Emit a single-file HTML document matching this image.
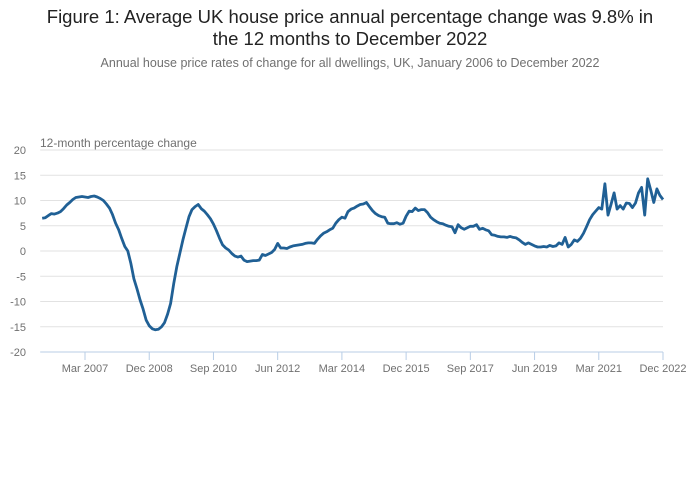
<!DOCTYPE html>
<html><head><meta charset="utf-8"><style>
body{margin:0;background:#fff;font-family:"Liberation Sans",sans-serif}
#wrap{position:relative;width:700px;height:502px;overflow:hidden}
h1{position:absolute;top:6px;left:0;width:700px;margin:0;text-align:center;font-weight:normal;font-size:18.5px;line-height:22px;color:#222}
p.sub{position:absolute;top:56px;left:0;width:700px;margin:0;text-align:center;font-size:12.5px;color:#707070}
svg{position:absolute;left:0;top:0}
</style></head><body>
<div id="wrap">
<h1>Figure 1: Average UK house price annual percentage change was 9.8% in<br>the 12 months to December 2022</h1>
<p class="sub">Annual house price rates of change for all dwellings, UK, January 2006 to December 2022</p>
<svg id="chart" width="700" height="502"></svg>
</div>
<script>
const yTicks=[20,15,10,5,0,-5,-10,-15,-20];
const xTickLabels=["Mar 2007","Dec 2008","Sep 2010","Jun 2012","Mar 2014","Dec 2015","Sep 2017","Jun 2019","Mar 2021","Dec 2022"];
const xTickIndex=[14,35,56,77,98,119,140,161,182,203];
const values=[
6.5,6.6,7.0,7.4,7.3,7.5,7.8,8.4,9.1,9.6,10.2,10.6,
10.7,10.8,10.7,10.6,10.8,10.9,10.7,10.4,10.0,9.3,8.5,7.2,
5.5,4.2,2.5,0.9,0.0,-2.5,-5.5,-7.5,-9.7,-11.5,-13.7,-14.8,
-15.4,-15.6,-15.5,-15.0,-14.2,-12.5,-10.4,-6.5,-3.1,-0.5,2.2,4.5,
6.8,8.2,8.8,9.2,8.4,7.9,7.2,6.4,5.3,4.0,2.5,1.2,
0.6,0.2,-0.5,-1.0,-1.2,-1.0,-1.8,-2.1,-2.0,-1.9,-1.9,-1.8,
-0.7,-0.9,-0.6,-0.3,0.3,1.5,0.6,0.6,0.5,0.8,1.0,1.1,
1.2,1.3,1.5,1.6,1.6,1.5,2.3,3.0,3.5,3.8,4.2,4.5,
5.5,6.2,6.7,6.5,7.8,8.3,8.5,8.9,9.2,9.3,9.6,8.8,
8.0,7.4,7.0,6.8,6.7,5.5,5.4,5.4,5.6,5.3,5.5,6.9,
7.9,7.8,8.5,8.0,8.2,8.2,7.6,6.7,6.2,5.8,5.5,5.4,
5.1,4.9,4.8,3.6,5.2,4.6,4.3,4.6,4.9,4.9,5.2,4.3,
4.5,4.2,4.0,3.2,3.1,2.9,2.8,2.8,2.7,2.9,2.7,2.6,
2.2,1.7,1.3,1.6,1.3,1.0,0.8,0.8,0.9,0.8,1.1,0.9,
1.0,1.6,1.3,2.7,0.8,1.3,2.2,1.9,2.5,3.5,4.8,6.2,
7.2,7.9,8.6,8.3,13.3,7.1,9.2,11.5,8.3,9.0,8.3,9.5,
9.4,8.6,9.5,11.5,12.6,7.1,14.3,12.0,9.6,12.3,11.0,10.2];
const NS="http://www.w3.org/2000/svg";
const svg=document.getElementById('chart');
const X0=42.2,X1=663,Y0=352,Y1=150;
const x=i=>X0+(X1-X0)*i/203;
const y=v=>Y0-(v+20)/40*(Y0-Y1);
function mk(t,a){const e=document.createElementNS(NS,t);for(const k in a)e.setAttribute(k,a[k]);svg.appendChild(e);return e;}
const at=mk('text',{x:40,y:147,'font-size':12,fill:'#707070'});at.textContent='12-month percentage change';


yTicks.forEach(v=>{
 if(v!==-20){const g=mk('line',{x1:X0-2,x2:X1,y1:y(v),y2:y(v),stroke:'#e2e2e2','stroke-width':1});
 
 }
 const t=mk('text',{x:26,y:y(v)+4,'font-size':11,fill:'#707070','text-anchor':'end'});t.textContent=v;
 
 
});
const ax=mk('line',{x1:X0-2,x2:X1,y1:Y0,y2:Y0,stroke:'#b8cde6','stroke-width':1});


xTickLabels.forEach((l,k)=>{
 const xi=x(xTickIndex[k]);
 const tk=mk('line',{x1:xi,x2:xi,y1:Y0,y2:Y0+8,stroke:'#b8cde6'});
 
 
 const t=mk('text',{x:xi,y:372,'font-size':11,fill:'#707070','text-anchor':'middle'});t.textContent=l;
 
 
});
const d=values.map((v,i)=>(i?'L':'M')+x(i).toFixed(1)+','+y(v).toFixed(1)).join('');
const p=mk('path',{d:d,fill:'none',stroke:'#206095','stroke-width':2.8,'stroke-linejoin':'round'});


</script>
</body></html>
